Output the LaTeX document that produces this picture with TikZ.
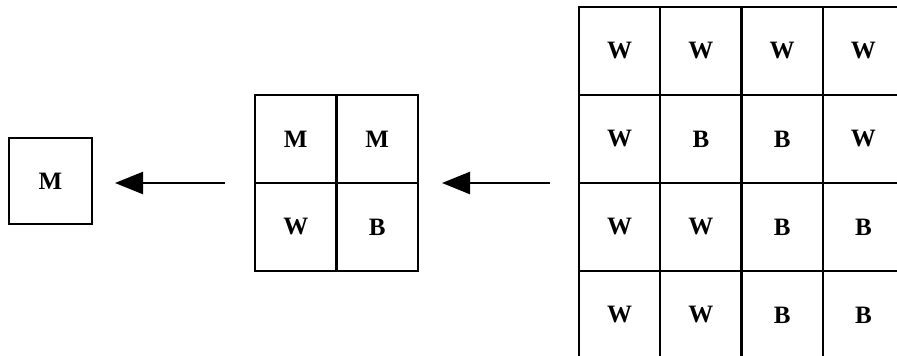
\documentclass[tikz,border=0pt]{standalone}
\usepackage{fontspec}
\setmainfont{Liberation Serif}
\usetikzlibrary{arrows.meta}
\begin{document}
\begin{tikzpicture}[x=1pt,y=-1pt,
  cell/.style={draw, line width=2.1pt, inner sep=0pt, minimum height=88pt,
               font=\fontsize{25}{25}\selectfont\bfseries},
  smallcell/.style={cell, minimum width=81.5pt},
  bigcell/.style={cell, minimum width=81.25pt},
  single/.style={cell, line width=1.8pt, minimum width=83pt, minimum height=86pt},
  reduce/.style={line width=2.4pt, -{Triangle[length=28pt,width=22pt]}}
]
\useasboundingbox (0,0) rectangle (897,356);

% single merged cell
\node[single] (s) at (50.5,181) {M};

% 2x2 grid
\foreach \r/\row in {0/{M,M},1/{W,B}} {
  \foreach \t [count=\c from 0] in \row {
    \node[smallcell] (m\r\c) at ({255+40.75+81.5*\c},{95+44+88*\r}) {\t};
  }
}

% 4x4 grid
\foreach \r/\row in {0/{W,W,W,W},1/{W,B,B,W},2/{W,W,B,B},3/{W,W,B,B}} {
  \foreach \t [count=\c from 0] in \row {
    \node[bigcell] (g\r\c) at ({579+40.625+81.25*\c},{7+44+88*\r}) {\t};
  }
}

% reduction arrows
\coordinate (a1s) at (225,183);
\coordinate (a1e) at (115,183);
\coordinate (a2s) at (550,183);
\coordinate (a2e) at (442,183);
\draw[reduce] (a1s) -- (a1e);
\draw[reduce] (a2s) -- (a2e);
\end{tikzpicture}
\end{document}
